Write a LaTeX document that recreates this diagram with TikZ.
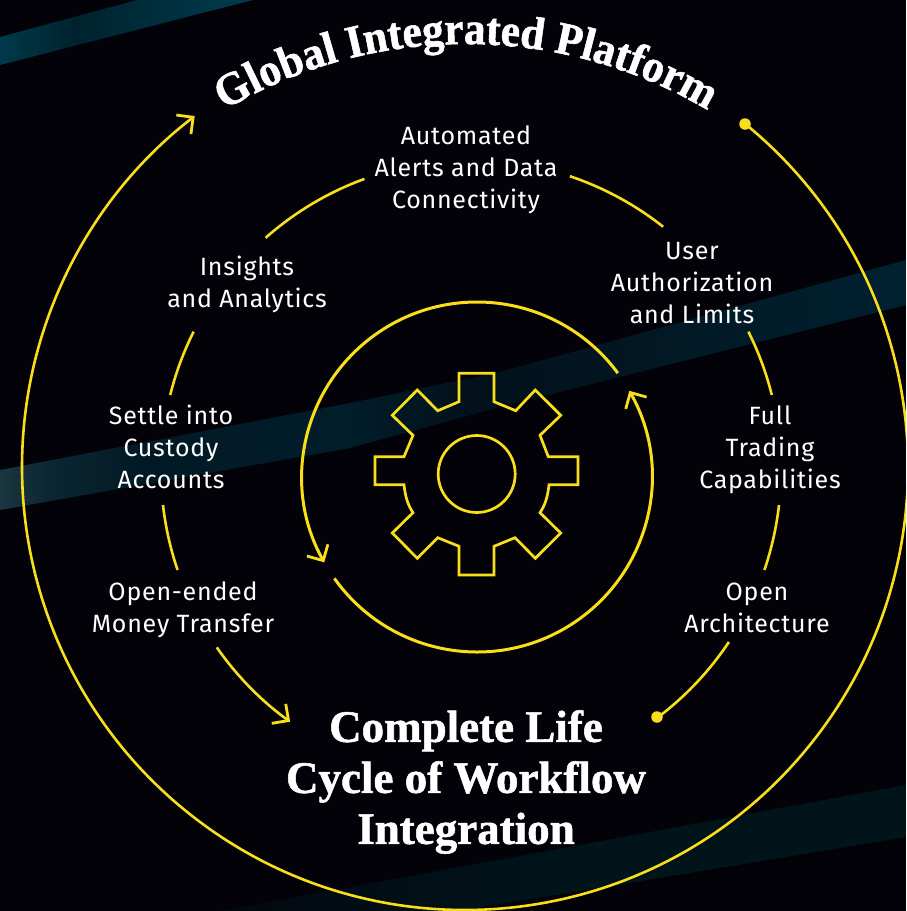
\documentclass[tikz,border=0pt]{standalone}
\usepackage{fontspec}
\usetikzlibrary{arrows.meta,decorations.text}
\newfontfamily\bodyf[LetterSpace=3]{Fira Sans}
\newfontfamily\headf{Liberation Serif Bold}[FakeBold=1.2]
\newfontfamily\titlef{Liberation Serif Bold}[FakeBold=1.2,FakeStretch=0.94]
\definecolor{bgc}{HTML}{020208}
\definecolor{ylw}{HTML}{F9DE1C}
\definecolor{a0}{HTML}{003A4A}\definecolor{a1}{HTML}{00222E}\definecolor{a2}{HTML}{003C4E}
\definecolor{b0}{HTML}{1A3540}\definecolor{b1}{HTML}{0A2632}\definecolor{b2}{HTML}{021925}\definecolor{b3}{HTML}{011E2B}\definecolor{b4}{HTML}{02111C}\definecolor{b5}{HTML}{021622}\definecolor{b6}{HTML}{011D2C}\definecolor{b7}{HTML}{012131}
\definecolor{c0}{HTML}{020810}\definecolor{c1}{HTML}{00141A}
\pgfdeclarehorizontalshading{bandOne}{100bp}{color(0bp)=(a0);color(25bp)=(a0);color(40bp)=(a1);color(75bp)=(a2);color(100bp)=(a2)}
\pgfdeclarehorizontalshading{bandTwo}{100bp}{color(0bp)=(b0);color(25bp)=(b0);color(28bp)=(b1);color(33bp)=(b2);color(44bp)=(b3);color(51bp)=(b4);color(59bp)=(b5);color(69bp)=(b6);color(75bp)=(b7);color(100bp)=(b7)}
\pgfdeclarehorizontalshading{bandThree}{100bp}{color(0bp)=(c0);color(25bp)=(c0);color(50bp)=(c1);color(100bp)=(c1)}
\tikzset{
  link/.style={draw=ylw,line width=2.6pt},
  loopline/.style={draw=ylw,line width=3pt},
  barb/.style={-{Straight Barb[length=12pt,width=24pt,line width=2.8pt]}},
  gearline/.style={draw=ylw,line width=2.7pt,line join=miter},
  label/.style={text=white,align=center,font=\bodyf\fontsize{25}{32}\selectfont,inner sep=0pt},
  head/.style={text=white,align=center,font=\headf\fontsize{45}{51}\selectfont,inner sep=0pt},
  dotmark/.style={circle,fill=ylw,minimum size=11.5pt,inner sep=0pt},
}
\begin{document}
\begin{tikzpicture}[x=1pt,y=-1pt]
\useasboundingbox (0,0) rectangle (906,911);
\clip (0,0) rectangle (906,911);
\fill[bgc] (0,0) rectangle (906,911);
% light bands
\shade[shading=bandOne] (0,37) -- (137,0) -- (253,0) -- (0,65) -- cycle;
\shade[shading=bandTwo] (0,470) -- (350,403) -- (500,372) -- (906,260) -- (906,305) -- (500,407) -- (350,448) -- (0,510) -- cycle;
\shade[shading=bandThree] (220,911) -- (906,785) -- (906,837) -- (460,911) -- cycle;
% centres
\coordinate (oc) at (465,467);
\coordinate (mc) at (471,470);
\coordinate (ic) at (477,477);
\coordinate (gc) at (476.7,474);
% outer ring
\node[dotmark] (dotouter) at (745,124) {};
\draw[link,barb] (oc) ++(-50.8:443) arc[start angle=-50.8,end angle=232.4,radius=443];
% labels
\node[label] (alerts) at (466,170) {Automated\\Alerts and Data\\Connectivity};
\node[label] (user) at (692,283) {User\\Authorization\\and Limits};
\node[label] (trading) at (770,450) {Full\\Trading\\Capabilities};
\node[label] (open) at (757,607.5) {Open\\Architecture};
\node[label] (money) at (183,610) {Open-ended\\Money Transfer};
\node[label] (settle) at (171,447) {Settle into\\Custody\\Accounts};
\node[label] (insights) at (247,284) {Insights\\and Analytics};
% middle ring segments
\node[dotmark] (dotmid) at (657,717) {};
\draw[link] (mc) ++(-71.4:310) arc[start angle=-71.4,end angle=-51.7,radius=310];
\draw[link] (mc) ++(-26.5:310) arc[start angle=-26.5,end angle=-14,radius=310];
\draw[link] (mc) ++(6.5:310) arc[start angle=6.5,end angle=18.8,radius=310];
\draw[link] (mc) ++(33.7:310) arc[start angle=33.7,end angle=53,radius=310];
\draw[link] (mc) ++(-110.1:310) arc[start angle=-110.1,end angle=-131.5,radius=310];
\draw[link] (mc) ++(-153.5:310) arc[start angle=-153.5,end angle=-166,radius=310];
\draw[link] (mc) ++(173.5:310) arc[start angle=173.5,end angle=161.2,radius=310];
\draw[link,barb] (mc) ++(145.1:310) arc[start angle=145.1,end angle=125.7,radius=310];
% inner ring
\draw[loopline,barb] (ic) ++(-36.4:175) arc[start angle=-36.4,end angle=-209.2,radius=175];
\draw[loopline,barb] (ic) ++(144.6:175) arc[start angle=144.6,end angle=-29.5,radius=175];
% gear
\draw[gearline] (459,373.3) -- (494,373.3) -- (494,401.7) -- (515.7,410.7) -- (535.3,390) -- (560.7,415.3) -- (540,435.3) -- (548.3,456.7) -- (578,456.7) -- (578,484.7) -- (549,484.7) .. controls (547.5,498) and (545,505) .. (540,512.7) -- (560.7,533) -- (535.3,558.3) -- (515,537.7) -- (494,546.3) -- (494,575) -- (459,575) -- (459,546.3) -- (437.7,537.7) -- (417.3,558.3) -- (392.3,533) -- (413,512.7) .. controls (408,505) and (405.5,498) .. (404,484.7) -- (375,484.7) -- (375,456.7) -- (404,456.7) -- (413,435.3) -- (392.3,415.3) -- (417.3,390) -- (437.7,410.7) -- (459,401.7) -- cycle;
\draw[gearline] (gc) circle[radius=38.5];
% headings
\node[head] (cycle) at (466,782) {Complete Life\\Cycle of Workflow\\Integration};
\path[decorate,decoration={text along path,text align={center},text={|\color{white}\titlef\fontsize{46}{46}\selectfont|Global Integrated Platform}}]
  (466,517) ++(-135:473) arc[start angle=-135,end angle=-45,radius=473];
\end{tikzpicture}
\end{document}
